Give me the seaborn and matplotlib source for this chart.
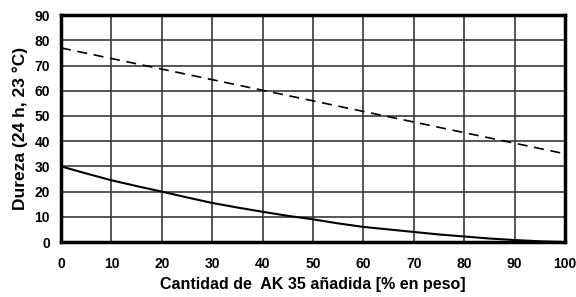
import numpy as np
import pandas as pd
import seaborn as sns
import matplotlib.pyplot as plt

# data
cantidad = [0, 5, 10, 15, 20, 25, 30, 35, 40, 45, 50,
            55, 60, 65, 70, 75, 80, 85, 90, 95, 100]
dureza_inicial = [77, 74.9, 72.8, 70.7, 68.6, 66.5, 64.4, 62.3, 60.2, 58.1, 56,
                  53.9, 51.8, 49.7, 47.6, 45.5, 43.4, 41.3, 39.2, 37.1, 35]
dureza_final = [30, 27.2, 24.5, 22.2, 20, 17.7, 15.5, 13.7, 12, 10.4, 9,
                7.4, 6, 5, 4, 3, 2.2, 1.4, 0.8, 0.3, 0]

df = pd.DataFrame({"Cantidad": cantidad,
                   "inicial": dureza_inicial,
                   "final": dureza_final})

sns.set_style("white")
plt.rcParams['font.family'] = ['Liberation Sans', 'DejaVu Sans']
plt.rcParams['font.weight'] = 'bold'

fig, ax = plt.subplots(figsize=(5.76, 2.97), dpi=100)
fig.subplots_adjust(left=0.106, right=0.981, top=0.949, bottom=0.185)

sns.lineplot(x="Cantidad", y="inicial", data=df, ax=ax, color="black",
             linestyle=(0, (6, 4)), linewidth=1.2)
sns.lineplot(x="Cantidad", y="final", data=df, ax=ax, color="black",
             linewidth=1.5)

ax.set_xlim(0, 100)
ax.set_ylim(0, 90)
ax.set_xticks(range(0, 101, 10))
ax.set_yticks(range(0, 91, 10))
ax.grid(True, color="#3a3a3a", linewidth=1.2)
ax.set_axisbelow(True)
for s in ax.spines.values():
    s.set_linewidth(2.5)
    s.set_color("black")
ax.tick_params(length=0, labelsize=10, labelcolor="black")
ax.tick_params(axis="x", pad=11)
ax.tick_params(axis="y", pad=8)
for lab in ax.get_xticklabels() + ax.get_yticklabels():
    lab.set_fontweight("bold")

ax.set_xlabel("Cantidad de  AK 35 añadida [% en peso]", fontsize=11.5,
              fontweight="bold", labelpad=4, color="black")
ax.set_ylabel("Dureza (24 h, 23 °C)", fontsize=12.5, fontweight="bold",
              labelpad=5, color="black")

plt.savefig("out.png", dpi=100)
